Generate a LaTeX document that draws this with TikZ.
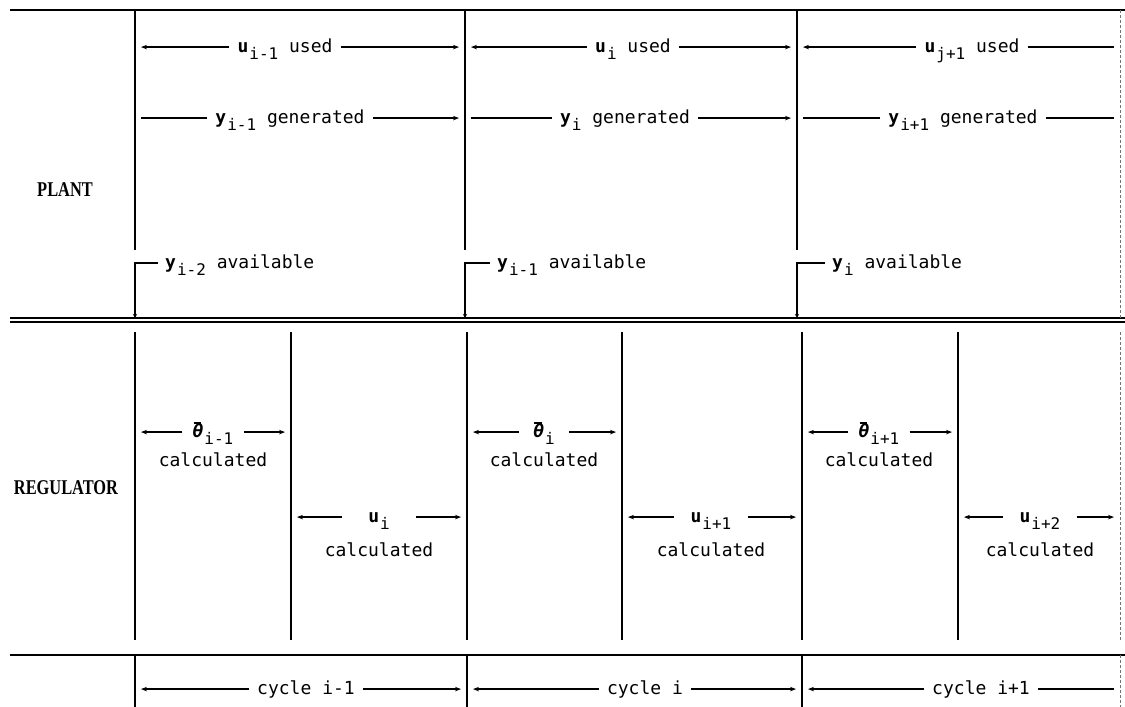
\documentclass[tikz,border=0pt]{standalone}
\usepackage{fontspec}
\setmonofont{DejaVu Sans Mono}
\newfontfamily\tagfont[FakeStretch=0.78]{Liberation Serif Bold}
\usetikzlibrary{arrows.meta}

% lowered index, bold variable, bold barred theta
\newcommand\lo[1]{\raisebox{-0.75ex}{\fontsize{16}{16}\selectfont #1}}
\newcommand\vb[1]{\textbf{#1}\hspace{1pt}}
\newcommand\thb{\textbf{\textit{θ}}\llap{\raisebox{0.74em}{\rule{0.42em}{1.3pt}}\hspace{0.12em}}\hspace{1pt}}

\begin{document}
\begin{tikzpicture}[x=1pt,y=-1pt,
  rule/.style={line width=1.5pt},
  edge/.style={line width=1pt, densely dashed, black!55},
  arr/.style={line width=1.2pt, -{Stealth[length=6pt,width=4.5pt]}, shorten >=6pt},
  plainl/.style={line width=1.2pt, shorten >=6pt},
  txt/.style={font=\ttfamily\fontsize{18}{20}\selectfont, inner xsep=8pt, inner ysep=0pt, anchor=base},
  txtw/.style={txt, anchor=base west, inner xsep=0pt},
  tag/.style={font=\tagfont\fontsize{21}{22}\selectfont, inner sep=0pt}]
% the mid anchors of the labels follow this font's x-height
\ttfamily\fontsize{18}{20}\selectfont
\useasboundingbox (0,0) rectangle (1125,707);

% column boundaries: plant, regulator, cycle
\coordinate (p0) at (135,0); \coordinate (p1) at (465,0);
\coordinate (p2) at (797,0); \coordinate (p3) at (1120,0);
\coordinate (r0) at (135,0); \coordinate (r1) at (291,0);
\coordinate (r2) at (467,0); \coordinate (r3) at (622,0);
\coordinate (r4) at (802,0); \coordinate (r5) at (958,0);
\coordinate (r6) at (1120,0);
\coordinate (c0) at (135,0); \coordinate (c1) at (467,0);
\coordinate (c2) at (802,0); \coordinate (c3) at (1120,0);

% horizontal rules
\draw[rule] (10,10) -- (1125,10);
\draw[rule] (10,318) -- (1125,318);
\draw[rule] (10,322) -- (1125,322);
\draw[rule] (10,655) -- (1125,655);

% plant column lines
\foreach \x in {135,465,797} \draw[rule] (\x,10) -- (\x,250);
\draw[edge] (1120,10) -- (1120,318);

% regulator column lines
\foreach \x in {135,291,467,622,802,958} \draw[rule] (\x,332) -- (\x,640);
\draw[edge] (1120,332) -- (1120,640);

% cycle column lines
\foreach \x in {135,467,802} \draw[rule] (\x,655) -- (\x,707);
\draw[edge] (1120,655) -- (1120,707);

% row labels
\node[tag] (plant) at (65,190) {PLANT};
\node[tag] (reg) at (66,488) {REGULATOR};

% plant: inputs used
\node[txt] (us1) at (285,52) {\vb{u}\lo{i-1} used};
\node[txt] (us2) at (633,52) {\vb{u}\lo{i} used};
\node[txt] (us3) at (972,52) {\vb{u}\lo{j+1} used};
\draw[arr] (us1.mid west) -- (p0 |- us1.mid);
\draw[arr] (us1.mid east) -- (p1 |- us1.mid);
\draw[arr] (us2.mid west) -- (p1 |- us2.mid);
\draw[arr] (us2.mid east) -- (p2 |- us2.mid);
\draw[arr] (us3.mid west) -- (p2 |- us3.mid);
\draw[plainl] (us3.mid east) -- (p3 |- us3.mid);

% plant: outputs generated
\node[txt] (ge1) at (290,123) {\vb{y}\lo{i-1} generated};
\node[txt] (ge2) at (625,123) {\vb{y}\lo{i} generated};
\node[txt] (ge3) at (963,123) {\vb{y}\lo{i+1} generated};
\draw[plainl] (ge1.mid west) -- (p0 |- ge1.mid);
\draw[arr] (ge1.mid east) -- (p1 |- ge1.mid);
\draw[plainl] (ge2.mid west) -- (p1 |- ge2.mid);
\draw[arr] (ge2.mid east) -- (p2 |- ge2.mid);
\draw[plainl] (ge3.mid west) -- (p2 |- ge3.mid);
\draw[plainl] (ge3.mid east) -- (p3 |- ge3.mid);

% plant: outputs available
\node[txtw] (av1) at (165,268) {\vb{y}\lo{i-2} available};
\node[txtw] (av2) at (497,268) {\vb{y}\lo{i-1} available};
\node[txtw] (av3) at (832,268) {\vb{y}\lo{i} available};
\coordinate (b0) at (135,318); \coordinate (b1) at (465,318); \coordinate (b2) at (797,318);
\draw[line width=1.4pt, -{Stealth[length=4pt,width=4pt]}]
  ([xshift=-7pt]av1.mid west) -- (p0 |- av1.mid) -- (b0);
\draw[line width=1.4pt, -{Stealth[length=4pt,width=4pt]}]
  ([xshift=-7pt]av2.mid west) -- (p1 |- av2.mid) -- (b1);
\draw[line width=1.4pt, -{Stealth[length=4pt,width=4pt]}]
  ([xshift=-7pt]av3.mid west) -- (p2 |- av3.mid) -- (b2);

% regulator: parameter estimates
\node[txt, inner xsep=10pt] (th1) at (213,437) {\thb\lo{i-1}};
\node[txt, inner xsep=14pt] (th2) at (544,437) {\thb\lo{i}};
\node[txt, inner xsep=10pt] (th3) at (879,437) {\thb\lo{i+1}};
\node[txt] (tc1) at (213,466) {calculated};
\node[txt] (tc2) at (544,466) {calculated};
\node[txt] (tc3) at (879,466) {calculated};
\draw[arr] (th1.mid west) -- (r0 |- th1.mid);
\draw[arr] (th1.mid east) -- (r1 |- th1.mid);
\draw[arr] (th2.mid west) -- (r2 |- th2.mid);
\draw[arr] (th2.mid east) -- (r3 |- th2.mid);
\draw[arr] (th3.mid west) -- (r4 |- th3.mid);
\draw[arr] (th3.mid east) -- (r5 |- th3.mid);

% regulator: control signals
\node[txt, inner xsep=26pt] (uc1) at (379,522) {\vb{u}\lo{i}};
\node[txt, inner xsep=16pt] (uc2) at (711,522) {\vb{u}\lo{i+1}};
\node[txt, inner xsep=16pt] (uc3) at (1040,522) {\vb{u}\lo{i+2}};
\node[txt] (uk1) at (379,556) {calculated};
\node[txt] (uk2) at (711,556) {calculated};
\node[txt] (uk3) at (1040,556) {calculated};
\draw[arr] (uc1.mid west) -- (r1 |- uc1.mid);
\draw[arr] (uc1.mid east) -- (r2 |- uc1.mid);
\draw[arr] (uc2.mid west) -- (r3 |- uc2.mid);
\draw[arr] (uc2.mid east) -- (r4 |- uc2.mid);
\draw[arr] (uc3.mid west) -- (r5 |- uc3.mid);
\draw[arr] (uc3.mid east) -- (r6 |- uc3.mid);

% cycles
\node[txt] (cy1) at (306,694) {cycle i-1};
\node[txt] (cy2) at (645,694) {cycle i};
\node[txt] (cy3) at (981,694) {cycle i+1};
\draw[arr] (cy1.mid west) -- (c0 |- cy1.mid);
\draw[arr] (cy1.mid east) -- (c1 |- cy1.mid);
\draw[arr] (cy2.mid west) -- (c1 |- cy2.mid);
\draw[arr] (cy2.mid east) -- (c2 |- cy2.mid);
\draw[arr] (cy3.mid west) -- (c2 |- cy3.mid);
\draw[plainl] (cy3.mid east) -- (c3 |- cy3.mid);
\end{tikzpicture}
\end{document}
